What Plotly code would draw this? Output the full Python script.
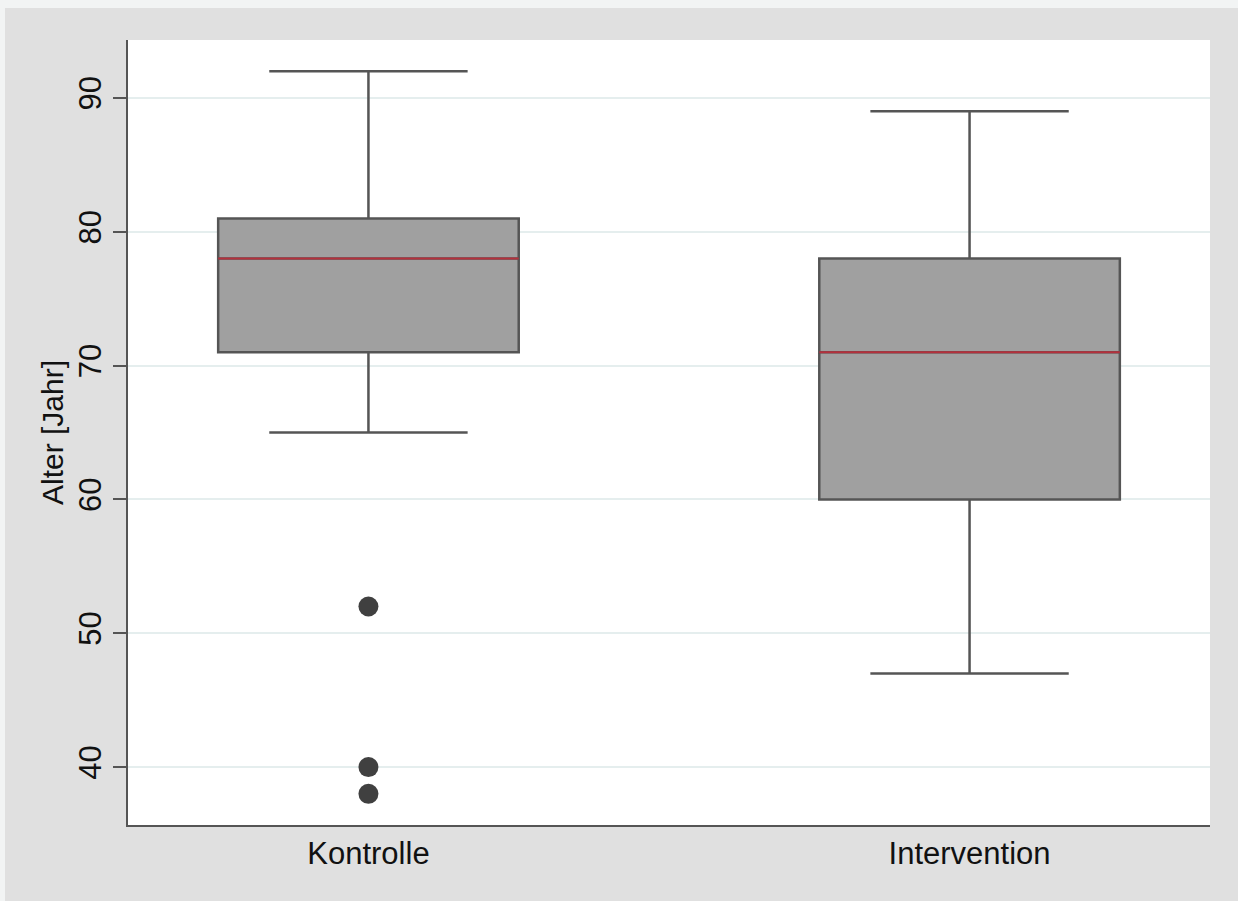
import plotly.graph_objects as go

# Age distribution per study group
groups = ["Kontrolle", "Intervention"]
lower_whisker = [65, 47]
q1 = [71, 60]
median = [78, 71]
q3 = [81, 78]
upper_whisker = [92, 89]
outlier_group = [0, 0, 0]
outlier_age = [52, 40, 38]

positions = list(range(len(groups)))
box_width = 0.5

BOX_FILL = "#a0a0a0"
BOX_LINE = "#555555"
MEDIAN_RED = "#b5303c"
GRID = "#e5eeee"
FONT = "Liberation Sans"

fig = go.Figure()

for i, name in enumerate(groups):
    fig.add_trace(go.Box(
        x=[positions[i]],
        q1=[q1[i]], median=[median[i]], q3=[q3[i]],
        lowerfence=[lower_whisker[i]], upperfence=[upper_whisker[i]],
        width=box_width, whiskerwidth=0.66,
        fillcolor=BOX_FILL,
        line=dict(color=BOX_LINE, width=2.5),
        boxpoints=False, name=name, showlegend=False, hoverinfo="skip",
    ))
    # red median line across the box
    fig.add_trace(go.Scatter(
        x=[positions[i] - box_width / 2, positions[i] + box_width / 2],
        y=[median[i], median[i]],
        mode="lines", line=dict(color=MEDIAN_RED, width=2),
        showlegend=False, hoverinfo="skip",
    ))

fig.add_trace(go.Scatter(
    x=[positions[g] for g in outlier_group], y=outlier_age,
    mode="markers", marker=dict(color="#404040", size=20),
    showlegend=False, hoverinfo="skip",
))

# thin light strip along the top and left edges of the page
strip = "#f2f4f4"
W, H = 1238, 901
ml, mr, mt, mb = 128, 28, 40, 76
pw, ph = W - ml - mr, H - mt - mb
def px_x(p):
    return (p - ml) / pw
def px_y(p):
    return (H - mb - p) / ph
fig.add_shape(type="rect", xref="paper", yref="paper",
              x0=px_x(0), x1=px_x(W), y0=px_y(8), y1=px_y(0),
              fillcolor=strip, line=dict(width=0), layer="above")
fig.add_shape(type="rect", xref="paper", yref="paper",
              x0=px_x(0), x1=px_x(5), y0=px_y(H), y1=px_y(0),
              fillcolor=strip, line=dict(width=0), layer="above")

fig.update_layout(
    width=W, height=H,
    margin=dict(l=ml, r=mr, t=mt, b=mb),
    paper_bgcolor="#e0e0e0",
    plot_bgcolor="#ffffff",
    font=dict(family=FONT, size=31, color="#111111"),
    showlegend=False,
)
fig.update_xaxes(
    range=[-0.4, 1.4],
    tickvals=positions, ticktext=groups,
    showgrid=False, zeroline=False,
    showline=True, linecolor=BOX_LINE, linewidth=2,
    ticks="", ticklabelstandoff=0,
    tickfont=dict(size=31),
)
fig.update_yaxes(
    range=[35.67, 94.33],
    tickvals=[40, 50, 60, 70, 80, 90],
    tickangle=-90,
    showgrid=True, gridcolor=GRID, gridwidth=1.5,
    zeroline=False,
    showline=True, linecolor=BOX_LINE, linewidth=2,
    ticks="outside", ticklen=13, tickwidth=2, tickcolor=BOX_LINE,
    tickfont=dict(size=31),
    title=dict(text="Alter [Jahr]", font=dict(size=30), standoff=0),
    automargin=False,
)

fig.write_html("out.html")
